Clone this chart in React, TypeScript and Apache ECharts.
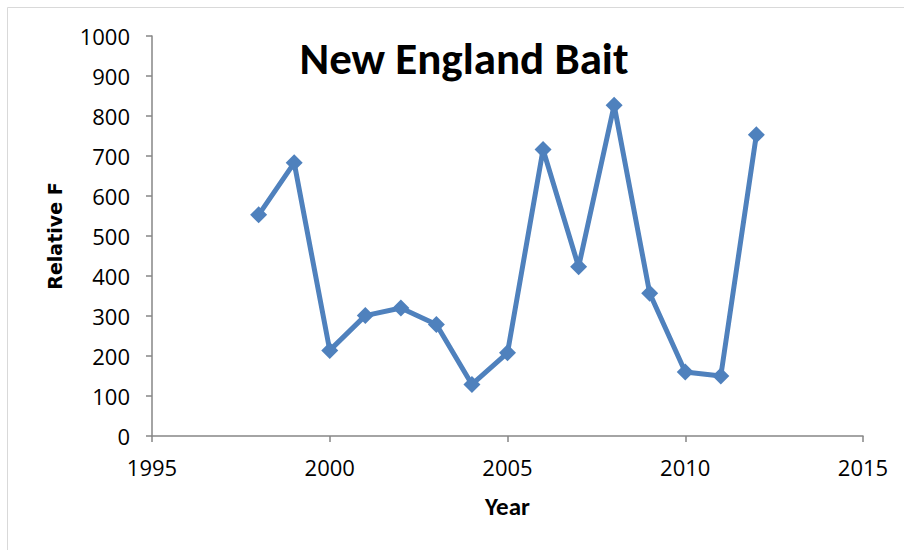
import React, { useEffect, useRef } from "react";
import * as echarts from "echarts";

const years = [1998, 1999, 2000, 2001, 2002, 2003, 2004, 2005, 2006, 2007, 2008, 2009, 2010, 2011, 2012];
const relativeF = [553, 683, 214, 301, 320, 279, 129, 208, 716, 423, 827, 357, 160, 150, 753];
const titleText = "New England Bait";
const xName = "Year";
const yName = "Relative F";

export default function App() {
  const ref = useRef<HTMLDivElement>(null);
  useEffect(() => {
    if (!ref.current) return;
    const chart = echarts.init(ref.current, null, { renderer: "svg" });
    const font = "Carlito, Calibri, Lato, 'Open Sans', sans-serif";
    const tickFont = "'Open Sans', sans-serif";
    chart.setOption({
      animation: false,
      backgroundColor: "#ffffff",
      title: {
        text: titleText,
        left: 459,
        top: 31,
        textAlign: "center",
        textStyle: { fontFamily: font, fontWeight: "bold", fontSize: 45, color: "#000" },
      },
      graphic: [
        {
          type: "rect",
          shape: { x: 7.5, y: 7.5, width: 920, height: 560 },
          style: { fill: "none", stroke: "#d9d9d9", lineWidth: 1 },
        },
      ],
      grid: { left: 152, top: 36, width: 711, height: 400 },
      xAxis: {
        type: "value",
        min: 1995,
        max: 2015,
        interval: 5,
        name: xName,
        nameLocation: "middle",
        nameGap: 58,
        nameTextStyle: { fontFamily: font, fontWeight: "bold", fontSize: 25, color: "#000" },
        axisLine: { lineStyle: { color: "#868686", width: 1.5 } },
        axisTick: { show: true, inside: false, length: 6, lineStyle: { color: "#868686", width: 1.5 } },
        axisLabel: { fontFamily: tickFont, fontSize: 22, color: "#000", margin: 20, formatter: (v: number) => String(v) },
        splitLine: { show: false },
      },
      yAxis: {
        type: "value",
        min: 0,
        max: 1000,
        interval: 100,
        name: yName,
        nameLocation: "middle",
        nameGap: 88,
        nameTextStyle: { fontFamily: "'DejaVu Sans', Verdana, sans-serif", fontWeight: "bold", fontSize: 19, color: "#000" },
        axisLine: { show: true, lineStyle: { color: "#868686", width: 1.5 } },
        axisTick: { show: true, inside: false, length: 6, lineStyle: { color: "#868686", width: 1.5 } },
        axisLabel: { fontFamily: tickFont, fontSize: 22, color: "#000", margin: 22, formatter: (v: number) => String(v) },
        splitLine: { show: false },
      },
      series: [
        {
          type: "line",
          data: years.map((y, i) => [y, relativeF[i]]),
          symbol: "diamond",
          symbolSize: 17,
          lineStyle: { color: "#4f81bd", width: 5 },
          itemStyle: { color: "#4f81bd" },
        },
      ],
    });
    return () => chart.dispose();
  }, []);
  return (
    <div
      ref={ref}
      style={{ position: "fixed", left: 0, top: 0, width: 904, height: 550 }}
    />
  );
}
